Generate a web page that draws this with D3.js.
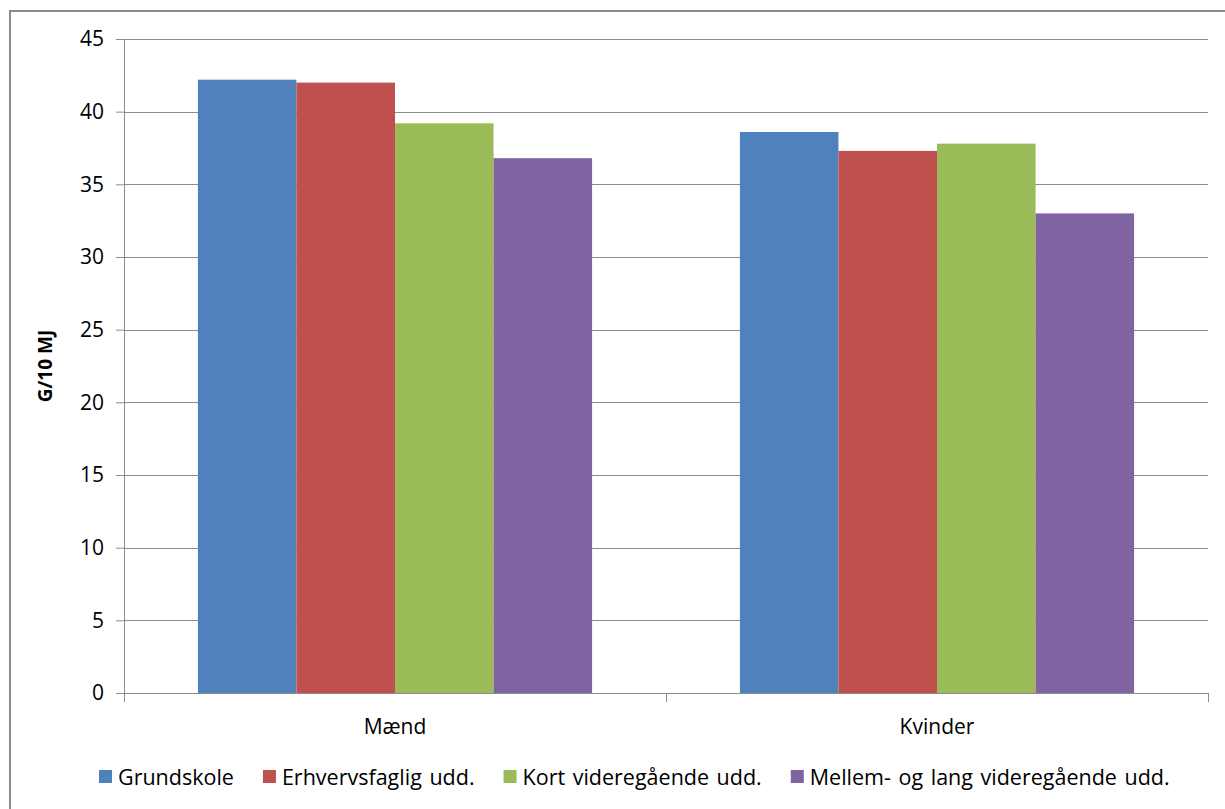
<!DOCTYPE html>
<html>
<head>
<meta charset="utf-8">
<script src="https://cdn.jsdelivr.net/npm/d3@7"></script>
<style>
  html, body { margin: 0; padding: 0; background: #fff; }
  svg text { font-family: "Open Sans", "Noto Sans", sans-serif; fill: #000; }
</style>
</head>
<body>
<svg id="chart" width="1225" height="809"></svg>
<script>
// Grouped bars: G/10 MJ by gender and education level
const categories = ["Mænd", "Kvinder"];
const seriesNames = ["Grundskole", "Erhvervsfaglig udd.", "Kort videregående udd.", "Mellem- og lang videregående udd."];
const grundskole = [42.2, 38.6];
const erhvervsfaglig = [42.0, 37.3];
const kortVideregaaende = [39.2, 37.8];
const mellemLang = [36.8, 33.0];
const yTicks = [0, 5, 10, 15, 20, 25, 30, 35, 40, 45];
const colors = ["#4F81BD", "#C0504D", "#9BBB59", "#8064A2"];

const seriesValues = [grundskole, erhvervsfaglig, kortVideregaaende, mellemLang];

const svg = d3.select("#chart");
const W = 1225, H = 809;
const margin = { left: 124, right: 17, top: 39, bottom: 116 };
const plotW = W - margin.left - margin.right;
const plotH = H - margin.top - margin.bottom;
const FS = 21;

// outer chart border
svg.append("rect")
  .attr("x", 10).attr("y", 11)
  .attr("width", W + 10).attr("height", H + 10)
  .attr("fill", "none").attr("stroke", "#8a8a8a").attr("stroke-width", 2);

const g = svg.append("g").attr("transform", `translate(${margin.left},${margin.top})`);

const y = d3.scaleLinear().domain([0, 45]).range([plotH, 0]);
const x0 = d3.scaleBand().domain(categories).range([0, plotW]).paddingInner(0).paddingOuter(0);
// gap width 150%: group occupies 4 / 5.5 of each category slot
const groupW = x0.bandwidth() * 4 / 5.5;
const x1 = d3.scaleBand().domain(d3.range(seriesNames.length)).range([0, groupW]).padding(0);

// gridlines
g.append("g")
  .selectAll("line")
  .data(yTicks.filter(t => t > 0))
  .join("line")
  .attr("x1", 0).attr("x2", plotW)
  .attr("y1", d => Math.round(y(d)) + 0.5).attr("y2", d => Math.round(y(d)) + 0.5)
  .attr("stroke", "#8c8c8c").attr("stroke-width", 1);

// bars
const groups = g.append("g").selectAll("g")
  .data(categories)
  .join("g")
  .attr("transform", d => `translate(${x0(d) + (x0.bandwidth() - groupW) / 2},0)`);

groups.selectAll("rect")
  .data((d, ci) => seriesValues.map((vals, si) => ({ si, v: vals[ci] })))
  .join("rect")
  .attr("x", d => x1(d.si))
  .attr("width", x1.bandwidth())
  .attr("y", d => y(d.v))
  .attr("height", d => plotH - y(d.v))
  .attr("fill", d => colors[d.si]);

// y axis
const yAxis = g.append("g")
  .call(d3.axisLeft(y).tickValues(yTicks).tickSize(8).tickSizeOuter(0).tickPadding(12));
yAxis.select(".domain").attr("stroke", "#8c8c8c");
yAxis.selectAll(".tick line").attr("stroke", "#8c8c8c");
yAxis.selectAll(".tick text").attr("font-size", FS).attr("font-family", "Open Sans, sans-serif");

// x axis with category separator ticks
const xAxis = g.append("g").attr("transform", `translate(0,${plotH})`);
xAxis.append("line")
  .attr("x1", 0).attr("x2", plotW).attr("y1", 0.5).attr("y2", 0.5)
  .attr("stroke", "#8c8c8c");
xAxis.selectAll("line.sep")
  .data([0, x0.bandwidth(), plotW])
  .join("line").attr("class", "sep")
  .attr("x1", d => Math.round(d) + 0.5).attr("x2", d => Math.round(d) + 0.5)
  .attr("y1", 0).attr("y2", 9)
  .attr("stroke", "#8c8c8c");
xAxis.selectAll("text")
  .data(categories)
  .join("text")
  .attr("x", d => x0(d) + x0.bandwidth() / 2)
  .attr("y", 41)
  .attr("text-anchor", "middle")
  .attr("font-size", FS)
  .text(d => d);

// y axis title
svg.append("text")
  .attr("transform", `translate(52,${margin.top + plotH / 2}) rotate(-90)`)
  .attr("text-anchor", "middle")
  .attr("font-size", 19)
  .attr("font-weight", "bold")
  .text("G/10 MJ");

// legend
const legend = svg.append("g").attr("transform", "translate(99,777)");
let lx = 0;
seriesNames.forEach((name, i) => {
  const item = legend.append("g").attr("transform", `translate(${lx},0)`);
  item.append("rect").attr("x", 0).attr("y", -7).attr("width", 13).attr("height", 13).attr("fill", colors[i]);
  const t = item.append("text").attr("x", 19).attr("y", 0).attr("dy", "0.35em")
    .attr("font-size", 21.5).attr("word-spacing", 2).text(name);
  const tw = t.node().getComputedTextLength();
  lx += 19 + tw + 29;
});
</script>
</body>
</html>
